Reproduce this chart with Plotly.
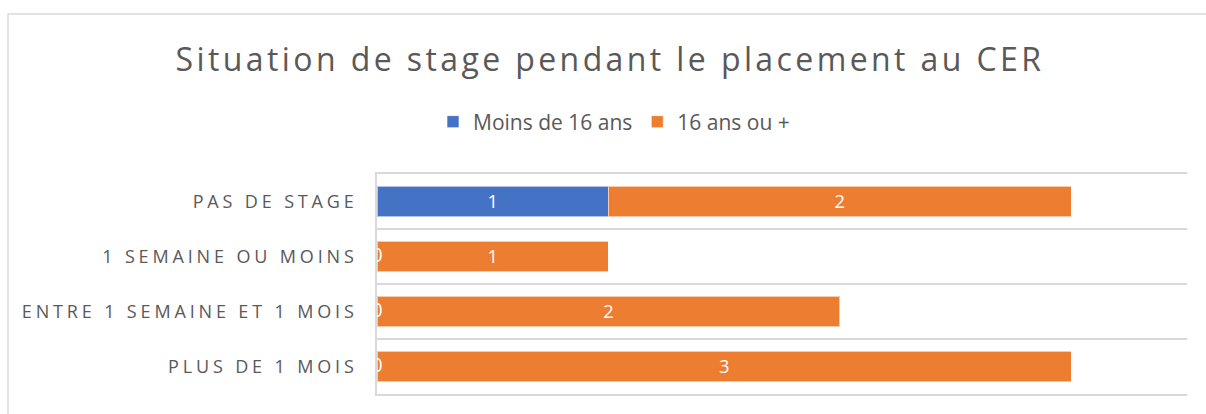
import plotly.graph_objects as go

categories = ["PAS DE STAGE", "1 SEMAINE OU MOINS", "ENTRE 1 SEMAINE ET 1 MOIS", "PLUS DE 1 MOIS"]
moins_16 = [1, 0, 0, 0]
plus_16 = [2, 1, 2, 3]
series_names = ["Moins de 16 ans", "16 ans ou +"]
title_text = "Situation de stage pendant le placement au CER"

BLUE = "#4472C4"
ORANGE = "#ED7D31"
GRAY = "#595959"
GRID = "#D9D9D9"
FONT = "Open Sans"

fig = go.Figure()
fig.add_trace(go.Bar(
    y=categories, x=moins_16, name=series_names[0], orientation="h",
    marker=dict(color=BLUE, line=dict(color="rgba(255,255,255,0.6)", width=1)),
    text=[str(v) if v else "" for v in moins_16],
    textposition="inside", insidetextanchor="middle", textangle=0,
    textfont=dict(color="white", size=20, family=FONT),
))
fig.add_trace(go.Bar(
    y=categories, x=plus_16, name=series_names[1], orientation="h",
    marker=dict(color=ORANGE, line=dict(color="rgba(255,255,255,0.6)", width=1)),
    text=[str(v) for v in plus_16],
    textposition="inside", insidetextanchor="middle", textangle=0,
    textfont=dict(color="white", size=20, family=FONT),
))
# zero labels of the first series
zero_y = [c for c, v in zip(categories, moins_16) if v == 0]
zero_x = [v for v in moins_16 if v == 0]
fig.add_trace(go.Scatter(
    y=zero_y, x=zero_x, mode="text", text=[str(v) for v in zero_x],
    textposition="middle center", cliponaxis=True,
    textfont=dict(color="white", size=20, family=FONT),
    showlegend=False, hoverinfo="skip",
))

W, H = 1206, 414
L, R, T, B = 377, 19, 174, 20
pw, ph = W - L - R, H - T - B

fig.update_layout(
    width=W, height=H,
    barmode="stack", bargap=0.44,
    margin=dict(l=L, r=R, t=T, b=B),
    paper_bgcolor="white", plot_bgcolor="white",
    font=dict(family=FONT, color=GRAY),
    title=dict(text=title_text, x=610 / W, xref="container", xanchor="center",
               y=1 - 60 / H, yref="container", yanchor="middle",
               font=dict(size=32, color=GRAY, family=FONT)),
    legend=dict(orientation="h", x=(614 - L) / pw, xanchor="center",
                y=1 + (T - 122) / ph, yanchor="middle",
                font=dict(size=21, color=GRAY, family=FONT),
                traceorder="normal"),
    xaxis=dict(range=[0, 3.5], showgrid=False, zeroline=False, showticklabels=False,
               showline=True, mirror=True, linecolor=GRID, linewidth=1.5, ticks=""),
    yaxis=dict(autorange="reversed", type="category", tickson="boundaries",
               showgrid=True, gridcolor=GRID, gridwidth=1.5,
               showline=True, linecolor=GRID, linewidth=1.5, ticks="",
               tickfont=dict(size=18, color=GRAY, family=FONT),
               ticklabelstandoff=14),
    shapes=[dict(type="rect", xref="paper", yref="paper",
                 x0=(8 - L) / pw, x1=1.2, y0=-0.5, y1=1 + (T - 14) / ph,
                 line=dict(color=GRID, width=1.5), fillcolor="rgba(0,0,0,0)", layer="below")],
)

post = """
document.body.style.margin = '0';
var gd = document.getElementById('{plot_id}');
function ls(){
  gd.querySelectorAll('.gtitle').forEach(function(e){e.style.letterSpacing='3.4px';});
  gd.querySelectorAll('.ytick text').forEach(function(e){e.style.letterSpacing='3.85px';});
}
ls();
gd.on('plotly_afterplot', ls);
"""
fig.write_html("out.html", post_script=post, config={"displayModeBar": False})
